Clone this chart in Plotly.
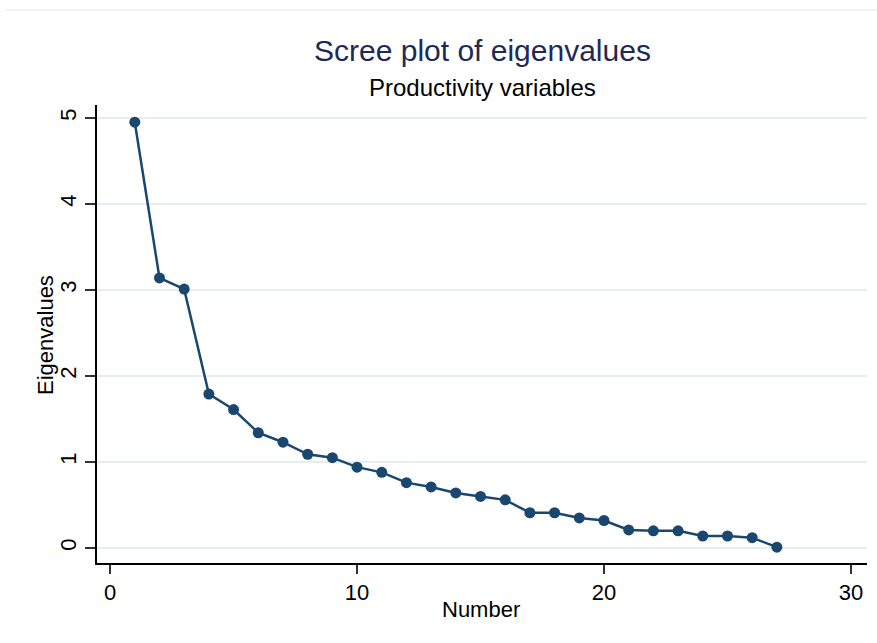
import plotly.graph_objects as go

# Data
numbers = list(range(1, 28))
eigenvalues = [4.95, 3.14, 3.01, 1.79, 1.61, 1.34, 1.23, 1.09, 1.05, 0.94,
               0.88, 0.76, 0.71, 0.64, 0.60, 0.56, 0.41, 0.41, 0.35, 0.32,
               0.21, 0.20, 0.20, 0.14, 0.14, 0.12, 0.01]
x_ticks = [0, 10, 20, 30]
y_ticks = [0, 1, 2, 3, 4, 5]

NAVY = "#1a476f"
FONT = "Liberation Sans, Arial, sans-serif"

fig = go.Figure()
fig.add_trace(go.Scatter(
    x=numbers, y=eigenvalues, mode="lines+markers",
    line=dict(color=NAVY, width=2.5),
    marker=dict(color=NAVY, size=11, symbol="circle"),
    showlegend=False,
))

fig.update_layout(
    width=877, height=643,
    margin=dict(l=97, r=10, t=105, b=80),
    paper_bgcolor="white", plot_bgcolor="white",
    font=dict(family=FONT, color="black", size=22),
    xaxis=dict(
        range=[-0.53, 30.65], tickvals=x_ticks, ticktext=[str(v) for v in x_ticks],
        showgrid=False, zeroline=False, showline=True, linecolor="black", linewidth=1.5,
        ticks="outside", ticklen=9, tickwidth=1.5, tickcolor="#333",
        tickfont=dict(size=22, family=FONT, color="black"),
        automargin=False,
    ),
    yaxis=dict(
        range=[-0.174, 5.15], tickvals=y_ticks, ticktext=[str(v) for v in y_ticks],
        showgrid=True, gridcolor="#e6eef1", gridwidth=2,
        zeroline=False, showline=True, linecolor="black", linewidth=1.5,
        ticks="outside", ticklen=10, tickwidth=1.5, tickcolor="#333",
        tickangle=-90,
        tickfont=dict(size=22, family=FONT, color="black"),
        automargin=False,
    ),
    annotations=[
        dict(text="Scree plot of eigenvalues", xref="paper", yref="paper",
             x=0.5, y=(563 - 50) / 458, xanchor="center", yanchor="middle",
             showarrow=False, font=dict(size=30, family=FONT, color="#1e2a55")),
        dict(text="Productivity variables", xref="paper", yref="paper",
             x=0.5, y=(563 - 87) / 458, xanchor="center", yanchor="middle",
             showarrow=False, font=dict(size=24, family=FONT, color="black")),
        dict(text="Number", xref="paper", yref="paper",
             x=(481 - 97) / 770, y=(563 - 609) / 458, xanchor="center", yanchor="middle",
             showarrow=False, font=dict(size=22, family=FONT, color="black")),
        dict(text="Eigenvalues", xref="paper", yref="paper", textangle=-90,
             x=(45 - 97) / 770, y=(563 - 335) / 458, xanchor="center", yanchor="middle",
             showarrow=False, font=dict(size=22, family=FONT, color="black")),
    ],
    shapes=[
        dict(type="line", xref="paper", yref="paper",
             x0=(5 - 97) / 770, x1=(877 - 97) / 770,
             y0=(563 - 10) / 458, y1=(563 - 10) / 458,
             line=dict(color="#eef2f2", width=1.5)),
    ],
)

fig.write_html("out.html")
